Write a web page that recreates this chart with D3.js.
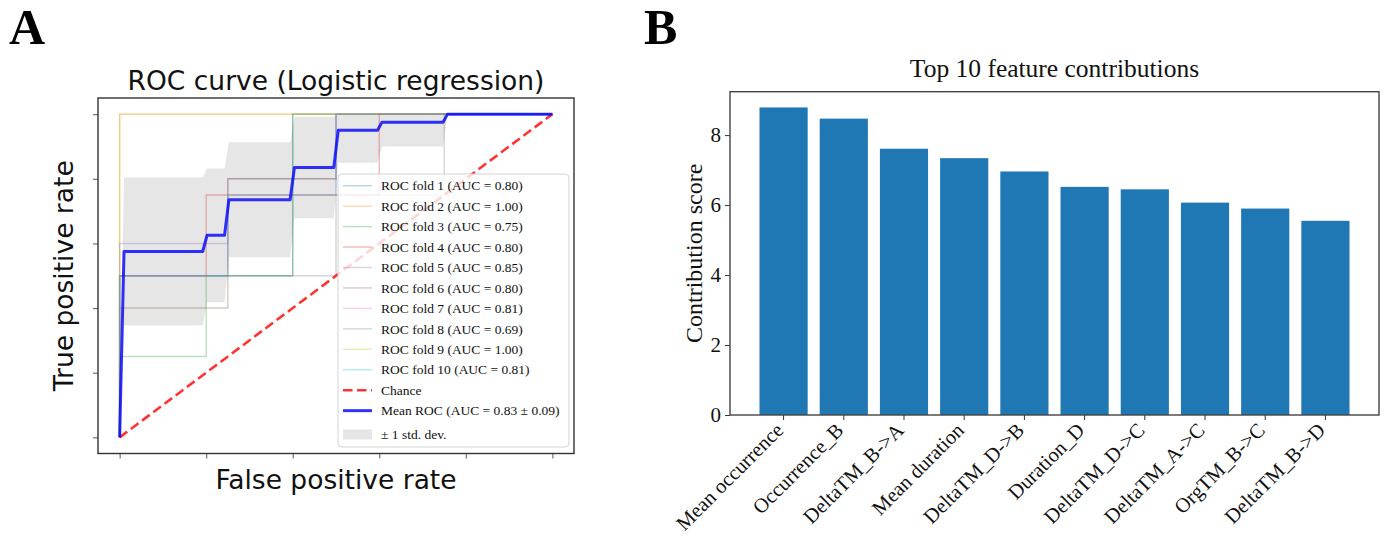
<!DOCTYPE html>
<html>
<head>
<meta charset="utf-8">
<script src="https://cdn.jsdelivr.net/npm/d3@7"></script>
<style>
  html, body { margin: 0; padding: 0; background: #fff; }
  svg { display: block; }
</style>
</head>
<body>
<svg id="chart" width="1387" height="538"></svg>
<script>
// ---------------- DATA ----------------
// Panel A: ROC folds (fpr / tpr step points)
const foldLabels = [
  "ROC fold 1 (AUC = 0.80)", "ROC fold 2 (AUC = 1.00)", "ROC fold 3 (AUC = 0.75)",
  "ROC fold 4 (AUC = 0.80)", "ROC fold 5 (AUC = 0.85)", "ROC fold 6 (AUC = 0.80)",
  "ROC fold 7 (AUC = 0.81)", "ROC fold 8 (AUC = 0.69)", "ROC fold 9 (AUC = 1.00)",
  "ROC fold 10 (AUC = 0.81)"
];
const foldColors = ["#1f77b4","#ff7f0e","#2ca02c","#d62728","#9467bd","#8c564b","#e377c2","#7f7f7f","#bcbd22","#17becf"];
const foldFpr = [
  [0, 0, 0.4, 0.4, 1],
  [0, 0, 1],
  [0, 0, 0.2, 0.2, 0.4, 0.4, 1],
  [0, 0, 0.2, 0.2, 0.6, 0.6, 1],
  [0, 0, 0.25, 0.25, 0.5, 0.5, 1],
  [0, 0, 0.25, 0.25, 0.5, 0.5, 1],
  [0, 0, 0.25, 0.25, 0.5, 0.5, 1],
  [0, 0, 0.5, 0.5, 0.75, 0.75, 1],
  [0, 0, 1],
  [0, 0, 0.25, 0.25, 0.5, 0.5, 1]
];
const foldTpr = [
  [0, 0.5, 0.5, 1, 1],
  [0, 1, 1],
  [0, 0.25, 0.25, 0.5, 0.5, 1, 1],
  [0, 0.5, 0.5, 0.75, 0.75, 1, 1],
  [0, 0.6, 0.6, 0.8, 0.8, 1, 1],
  [0, 0.4, 0.4, 0.8, 0.8, 1, 1],
  [0, 0.5, 0.5, 0.75, 0.75, 1, 1],
  [0, 0.5, 0.5, 0.75, 0.75, 1, 1],
  [0, 1, 1],
  [0, 0.5, 0.5, 0.75, 0.75, 1, 1]
];
// Mean ROC and ±1 std band
const meanFpr   = [0, 0.0101, 0.1919, 0.2020, 0.2424, 0.2525, 0.3939, 0.4040, 0.4949, 0.5051, 0.5960, 0.6061, 0.7475, 0.7576, 1];
const meanTpr   = [0, 0.575, 0.575, 0.625, 0.625, 0.735, 0.735, 0.835, 0.835, 0.95, 0.95, 0.975, 0.975, 1, 1];
const bandUpper = [0, 0.804, 0.804, 0.832, 0.832, 0.913, 0.913, 0.992, 0.992, 1, 1, 1, 1, 1, 1];
const bandLower = [0, 0.346, 0.346, 0.418, 0.418, 0.557, 0.557, 0.678, 0.678, 0.85, 0.85, 0.9, 0.9, 1, 1];
const chanceX = [0, 1];
const chanceY = [0, 1];
const rocTicks = [0, 0.2, 0.4, 0.6, 0.8, 1.0];
const legendExtra = ["Chance", "Mean ROC (AUC = 0.83 \u00B1 0.09)", "\u00B1 1 std. dev."];

// Panel B: feature contributions
const features = ["Mean occurrence", "Occurrence_B", "DeltaTM_B->A", "Mean duration", "DeltaTM_D->B",
                  "Duration_D", "DeltaTM_D->C", "DeltaTM_A->C", "OrgTM_B->C", "DeltaTM_B->D"];
const scores = [8.79, 8.47, 7.61, 7.34, 6.96, 6.52, 6.45, 6.07, 5.90, 5.55];
const scoreTicks = [0, 2, 4, 6, 8];

// ---------------- DRAW ----------------
const svg = d3.select("#chart");
const SERIF = "'Liberation Serif', 'Times New Roman', serif";
const SANS = "'DejaVu Sans', sans-serif";

// Panel letters
svg.append("text").attr("x", 9).attr("y", 44).text("A")
  .attr("font-family", SERIF).attr("font-weight", "bold").attr("font-size", 50).attr("fill", "#000");
svg.append("text").attr("x", 644).attr("y", 44).text("B")
  .attr("font-family", SERIF).attr("font-weight", "bold").attr("font-size", 50).attr("fill", "#000");

// ===== Panel A =====
const A = { l: 98, t: 98, r: 574, b: 453.5 };
const xA = d3.scaleLinear().domain([-0.05, 1.05]).range([A.l, A.r]);
const yA = d3.scaleLinear().domain([-0.05, 1.05]).range([A.b, A.t]);

svg.append("clipPath").attr("id", "clipA").append("rect")
  .attr("x", A.l).attr("y", A.t).attr("width", A.r - A.l).attr("height", A.b - A.t);

const gA = svg.append("g").attr("clip-path", "url(#clipA)");

// std band
const bandData = meanFpr.map((f, i) => ({ f, lo: bandLower[i], hi: bandUpper[i] }));
gA.append("path").datum(bandData)
  .attr("d", d3.area().x(d => xA(d.f)).y0(d => yA(d.lo)).y1(d => yA(d.hi)))
  .attr("fill", "grey").attr("fill-opacity", 0.2);

// folds
const lineXY = d3.line().x(d => xA(d[0])).y(d => yA(d[1]));
foldFpr.forEach((fx, k) => {
  const pts = fx.map((v, i) => [v, foldTpr[k][i]]);
  gA.append("path").datum(pts).attr("d", lineXY)
    .attr("fill", "none").attr("stroke", foldColors[k]).attr("stroke-opacity", 0.32).attr("stroke-width", 1.4);
});

// chance
gA.append("path").datum(chanceX.map((v, i) => [v, chanceY[i]])).attr("d", lineXY)
  .attr("fill", "none").attr("stroke", "red").attr("stroke-opacity", 0.8)
  .attr("stroke-width", 2.6).attr("stroke-dasharray", "9.5,4.5");

// mean
gA.append("path").datum(meanFpr.map((v, i) => [v, meanTpr[i]])).attr("d", lineXY)
  .attr("fill", "none").attr("stroke", "blue").attr("stroke-opacity", 0.8)
  .attr("stroke-width", 3).attr("stroke-linejoin", "round");

// ticks (no labels)
const axLeftA = svg.append("g").attr("transform", `translate(${A.l},0)`)
  .call(d3.axisLeft(yA).tickValues(rocTicks).tickSize(5).tickFormat(""));
const axBotA = svg.append("g").attr("transform", `translate(0,${A.b})`)
  .call(d3.axisBottom(xA).tickValues(rocTicks).tickSize(5).tickFormat(""));
[axLeftA, axBotA].forEach(g => {
  g.select(".domain").remove();
  g.selectAll(".tick line").attr("stroke", "#666").attr("stroke-width", 1.1);
});

// frame
svg.append("rect").attr("x", A.l).attr("y", A.t).attr("width", A.r - A.l).attr("height", A.b - A.t)
  .attr("fill", "none").attr("stroke", "#333").attr("stroke-width", 1.4);

// title & labels
svg.append("text").attr("x", (A.l + A.r) / 2).attr("y", 90).attr("text-anchor", "middle")
  .attr("font-family", SANS).attr("font-size", 26.5).attr("fill", "#111")
  .text("ROC curve (Logistic regression)");
svg.append("text").attr("x", (A.l + A.r) / 2).attr("y", 489).attr("text-anchor", "middle")
  .attr("font-family", SANS).attr("font-size", 26.5).attr("fill", "#111")
  .text("False positive rate");
svg.append("text").attr("transform", `translate(73,${(A.t + A.b) / 2}) rotate(-90)`)
  .attr("text-anchor", "middle")
  .attr("font-family", SANS).attr("font-size", 26.5).attr("fill", "#111")
  .text("True positive rate");

// legend
const L = { x: 338, y: 174, w: 231, h: 273 };
const gL = svg.append("g");
gL.append("rect").attr("x", L.x).attr("y", L.y).attr("width", L.w).attr("height", L.h)
  .attr("rx", 4).attr("ry", 4)
  .attr("fill", "white").attr("fill-opacity", 0.8).attr("stroke", "#d3d3d3").attr("stroke-width", 1);
const rowY = i => 185.7 + i * 20.45;
const hx0 = 343, hx1 = 372, tx = 381;
foldLabels.forEach((lab, i) => {
  gL.append("line").attr("x1", hx0).attr("x2", hx1).attr("y1", rowY(i)).attr("y2", rowY(i))
    .attr("stroke", foldColors[i]).attr("stroke-opacity", 0.32).attr("stroke-width", 1.4);
  gL.append("text").attr("x", tx).attr("y", rowY(i)).attr("dy", "0.35em")
    .attr("font-family", SERIF).attr("font-size", 13.5).attr("fill", "#111").text(lab);
});
// chance
gL.append("line").attr("x1", hx0).attr("x2", hx1).attr("y1", rowY(10)).attr("y2", rowY(10))
  .attr("stroke", "red").attr("stroke-opacity", 0.8).attr("stroke-width", 2.6).attr("stroke-dasharray", "9.5,4.5");
gL.append("text").attr("x", tx).attr("y", rowY(10)).attr("dy", "0.35em")
  .attr("font-family", SERIF).attr("font-size", 13.5).attr("fill", "#111").text(legendExtra[0]);
// mean
gL.append("line").attr("x1", hx0).attr("x2", hx1).attr("y1", rowY(11)).attr("y2", rowY(11))
  .attr("stroke", "blue").attr("stroke-opacity", 0.8).attr("stroke-width", 3);
gL.append("text").attr("x", tx).attr("y", rowY(11)).attr("dy", "0.35em")
  .attr("font-family", SERIF).attr("font-size", 13.5).attr("fill", "#111").text(legendExtra[1]);
// std patch
const stdY = 434.5;
gL.append("rect").attr("x", hx0).attr("y", stdY - 5).attr("width", hx1 - hx0).attr("height", 10)
  .attr("fill", "grey").attr("fill-opacity", 0.2);
gL.append("text").attr("x", tx).attr("y", stdY).attr("dy", "0.35em")
  .attr("font-family", SERIF).attr("font-size", 13.5).attr("fill", "#111").text(legendExtra[2]);

// ===== Panel B =====
const B = { l: 730, t: 91.7, r: 1379, b: 415 };
const xB = d3.scaleBand().domain(features).range([B.l, B.r]).paddingInner(0.2).paddingOuter(0.49);
const yB = d3.scaleLinear().domain([0, 9.24]).range([B.b, B.t]);

svg.append("g").selectAll("rect").data(features).join("rect")
  .attr("x", d => xB(d)).attr("width", xB.bandwidth())
  .attr("y", (d, i) => yB(scores[i])).attr("height", (d, i) => yB(0) - yB(scores[i]))
  .attr("fill", "#1f77b4");

const axLeftB = svg.append("g").attr("transform", `translate(${B.l},0)`)
  .call(d3.axisLeft(yB).tickValues(scoreTicks).tickSize(5).tickPadding(4).tickFormat(d3.format("d")));
axLeftB.select(".domain").remove();
axLeftB.selectAll(".tick line").attr("stroke", "#333");
axLeftB.selectAll(".tick text").attr("font-family", SERIF).attr("font-size", 21).attr("fill", "#111");

const axBotB = svg.append("g").attr("transform", `translate(0,${B.b})`)
  .call(d3.axisBottom(xB).tickSize(5).tickPadding(0));
axBotB.select(".domain").remove();
axBotB.selectAll(".tick line").attr("stroke", "#333");
axBotB.selectAll(".tick text")
  .attr("font-family", SERIF).attr("font-size", 20.5).attr("fill", "#111")
  .attr("text-anchor", "end").attr("dy", null).attr("y", 0)
  .attr("transform", "translate(1,16.5) rotate(-45)");

svg.append("rect").attr("x", B.l).attr("y", B.t).attr("width", B.r - B.l).attr("height", B.b - B.t)
  .attr("fill", "none").attr("stroke", "#444").attr("stroke-width", 1.4);

svg.append("text").attr("x", (B.l + B.r) / 2).attr("y", 77).attr("text-anchor", "middle")
  .attr("font-family", SERIF).attr("font-size", 25.5).attr("fill", "#111")
  .text("Top 10 feature contributions");
svg.append("text").attr("transform", `translate(702,${(B.t + B.b) / 2}) rotate(-90)`)
  .attr("text-anchor", "middle")
  .attr("font-family", SERIF).attr("font-size", 24).attr("fill", "#111")
  .text("Contribution score");
</script>
</body>
</html>
